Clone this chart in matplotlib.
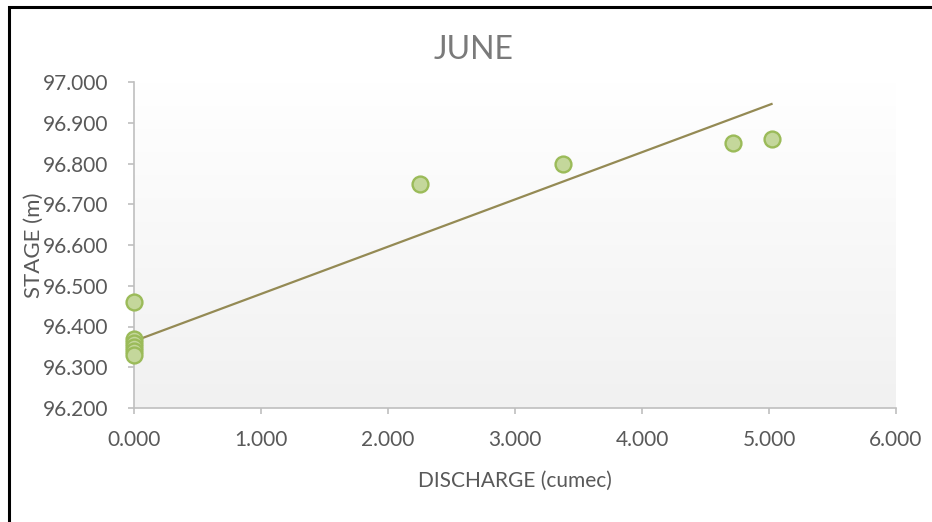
import numpy as np
import matplotlib
matplotlib.use("Agg")
import matplotlib.pyplot as plt
from matplotlib.patches import Rectangle

plt.rcParams['font.family'] = ['Lato', 'DejaVu Sans']

# Stage-discharge observations for June
discharge = [0.0, 0.0, 0.0, 0.0, 0.0, 0.0, 2.25, 3.38, 4.72, 5.02]
stage = [96.46, 96.37, 96.36, 96.35, 96.34, 96.33, 96.75, 96.80, 96.85, 96.86]

# Linear trendline (end points)
trend_x = [0.0, 5.02]
trend_y = [96.364, 96.946]

x_ticks = [0, 1, 2, 3, 4, 5, 6]
y_ticks = [96.2, 96.3, 96.4, 96.5, 96.6, 96.7, 96.8, 96.9, 97.0]

text_color = '#595959'
axis_color = '#BFBFBF'

fig = plt.figure(figsize=(9.32, 5.22), dpi=100)
fig.patch.set_facecolor('white')

# Chart border
fig.patches.append(Rectangle((9 / 932, -0.05), 1.2, (522 - 6.5) / 522 + 0.05,
                             transform=fig.transFigure, fill=False,
                             edgecolor='black', linewidth=2.2))

ax = fig.add_axes([134 / 932, (522 - 408) / 522, (896 - 134) / 932, (408 - 82) / 522])
ax.set_xlim(0, 6)
ax.set_ylim(96.2, 97.0)

# Plot area gradient: white at top to light grey at bottom
grad = np.linspace(0, 1, 256).reshape(-1, 1)
top = np.array([1.0, 1.0, 1.0])
bot = np.array([0.945, 0.945, 0.945])
img = top + (bot - top) * grad[..., None]
ax.imshow(img, extent=[0, 6, 96.2, 97.0], aspect='auto', origin='upper', zorder=0)

ax.plot(trend_x, trend_y, color='#948A54', linewidth=1.6, zorder=2)
ax.scatter(discharge, stage, s=130, facecolor='#C4D79B', edgecolor='#9BBB59',
           linewidth=1.7, zorder=3, clip_on=False)

for s in ['top', 'right']:
    ax.spines[s].set_visible(False)
for s in ['left', 'bottom']:
    ax.spines[s].set_color(axis_color)
    ax.spines[s].set_linewidth(1.2)

ax.set_xticks(x_ticks)
ax.set_xticklabels([f'{v:.3f}' for v in x_ticks])
ax.set_yticks(y_ticks)
ax.set_yticklabels([f'{v:.3f}' for v in y_ticks])
ax.tick_params(axis='both', colors=axis_color, labelcolor=text_color,
               labelsize=15, length=4.5, width=1.2, direction='out')
ax.tick_params(axis='x', pad=11)
ax.tick_params(axis='y', pad=14)

ax.set_xlabel('DISCHARGE (cumec)', color=text_color, fontsize=15, labelpad=15)
ax.set_ylabel('STAGE (m)', color=text_color, fontsize=16)
ax.yaxis.set_label_coords(-0.118, 0.5)

fig.text(474 / 932, (522 - 50) / 522, 'JUNE', ha='center', va='center',
         color='#7A7A7A', fontsize=23)

fig.savefig('out.png', dpi=100)
